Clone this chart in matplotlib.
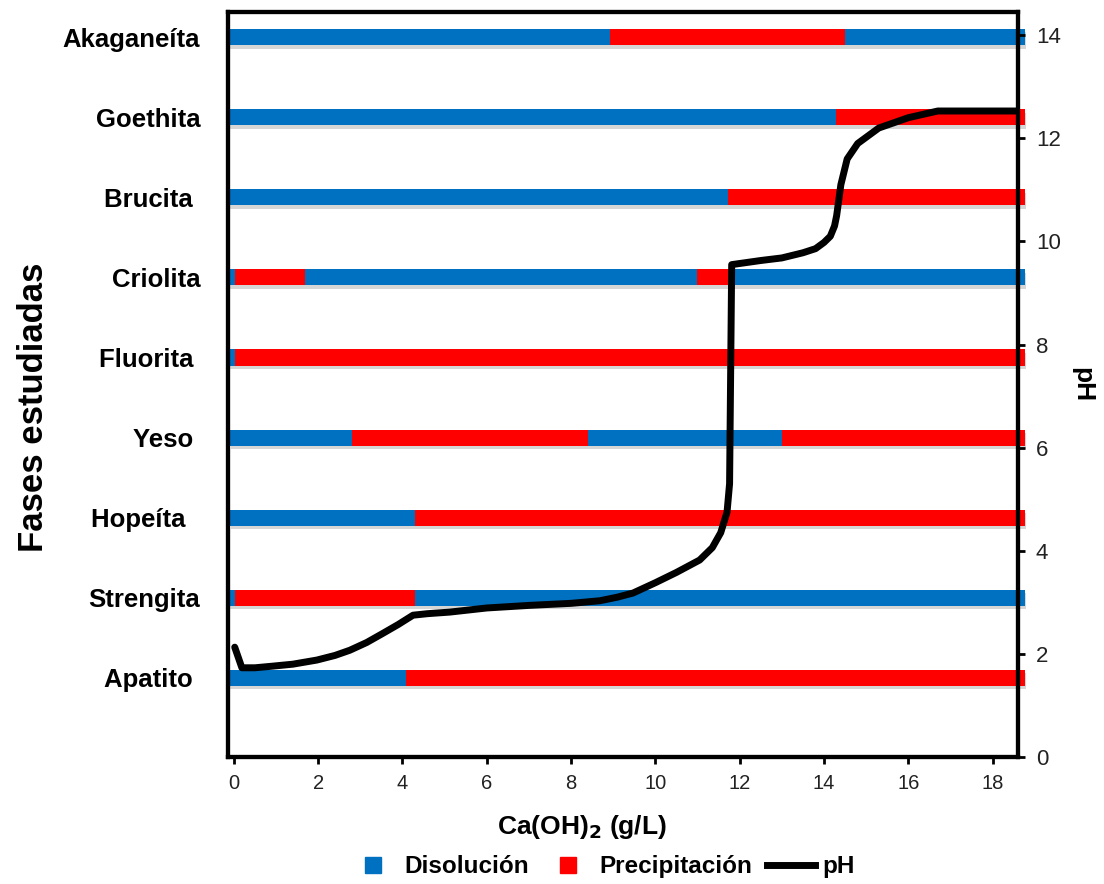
import numpy as np
import matplotlib
matplotlib.use('Agg')
import matplotlib.pyplot as plt
import matplotlib.patheffects as pe
from matplotlib.lines import Line2D

plt.rcParams['font.family'] = ['Liberation Sans', 'DejaVu Sans']

# fases (de arriba a abajo)
fases = ['Akaganeíta', 'Goethita', 'Brucita ', 'Criolita', 'Fluorita ',
         'Yeso ', 'Hopeíta  ', 'Strengita', 'Apatito ']

# limites de cada tramo en Ca(OH)2 (g/L) y estado de cada tramo
# D = disolucion, P = precipitacion
limites = [
    [-0.14, 8.92, 14.5, 18.77],
    [-0.14, 14.28, 18.77],
    [-0.14, 11.72, 18.77],
    [-0.14, 0.02, 1.68, 10.98, 11.89, 18.77],
    [-0.14, 0.02, 18.77],
    [-0.1, 2.8, 8.4, 13.0, 18.77],
    [-0.1, 4.3, 18.77],
    [-0.14, 0.02, 4.3, 18.77],
    [-0.14, 4.08, 18.77],
]
estados = [
    ['D', 'P', 'D'],
    ['D', 'P'],
    ['D', 'P'],
    ['D', 'P', 'D', 'P', 'D'],
    ['D', 'P'],
    ['D', 'P', 'D', 'P'],
    ['D', 'P'],
    ['D', 'P', 'D'],
    ['D', 'P'],
]

# curva de pH
ca_oh = [0.02, 0.19, 0.5, 0.9, 1.4, 1.97, 2.4, 2.75, 3.15, 3.54, 3.9, 4.25,
         4.6, 5.12, 6.0, 7.0, 8.0, 8.68, 9.1, 9.47, 10.0, 10.5, 11.05, 11.35,
         11.55, 11.7, 11.76, 11.81, 12.5, 13.0, 13.5, 13.8, 14.0, 14.15, 14.25,
         14.3, 14.4, 14.55, 14.8, 15.3, 16.0, 16.7, 18.6]
ph = [2.13, 1.73, 1.73, 1.76, 1.8, 1.88, 1.97, 2.07, 2.22, 2.4, 2.57, 2.75,
      2.78, 2.81, 2.89, 2.94, 2.98, 3.03, 3.1, 3.18, 3.38, 3.58, 3.82, 4.06,
      4.35, 4.75, 5.3, 9.55, 9.63, 9.68, 9.78, 9.86, 9.98, 10.1, 10.3,
      10.5, 11.1, 11.6, 11.9, 12.2, 12.4, 12.53, 12.53]

colores = {'D': '#0070C0', 'P': '#FF0000'}

fig = plt.figure(figsize=(11.04, 8.84), dpi=100)
ax = fig.add_axes([0.2065, 0.1437, 0.7155, 0.8427])

n = len(fases)
sombra = [pe.withSimplePatchShadow(offset=(1, -2.5), shadow_rgbFace='0.55', alpha=0.35)]
for i, fase in enumerate(fases):
    yy = n - 1 - i
    lims = limites[i]
    for j, est in enumerate(estados[i]):
        ax.barh(yy, lims[j + 1] - lims[j], left=lims[j], height=0.2,
                color=colores[est], clip_on=False, path_effects=sombra, zorder=2)

ax.set_xlim(-0.14, 18.6)
ax.set_ylim(-0.986, 8.312)
ax.set_yticks(range(n))
ax.set_yticklabels(fases[::-1], fontsize=18.5, fontweight='bold')
ax.tick_params(axis='y', length=0, pad=20)
ax.set_xticks(range(0, 19, 2))
ax.tick_params(axis='x', labelsize=14.5, labelcolor='#222222', length=5, width=2, pad=7)
for s in ax.spines.values():
    s.set_linewidth(3)
    s.set_color('black')
ax.set_xlabel('Ca(OH)$_\\mathbf{2}$ (g/L)', fontsize=19, fontweight='bold')
ax.xaxis.set_label_coords(0.448, -0.075)
ax.set_ylabel('Fases estudiadas', fontsize=25, fontweight='bold')
ax.yaxis.set_label_coords(-0.225, 0.47)

ax2 = ax.twinx()
ax2.plot(ca_oh, ph, color='black', lw=5, solid_joinstyle='round', solid_capstyle='round', zorder=3)
ax2.set_ylim(0, 14.45)
ax2.set_yticks(range(0, 15, 2))
ax2.tick_params(axis='y', labelsize=16, labelcolor='#222222', length=5, width=2, pad=8)
for s in ax2.spines.values():
    s.set_linewidth(3)
ax2.set_ylabel('pH', fontsize=19, fontweight='bold', rotation=270, labelpad=24)

handles = [Line2D([], [], marker='s', ls='none', ms=11, color=colores['D'], label='Disolución'),
           Line2D([], [], marker='s', ls='none', ms=11, color=colores['P'], label='Precipitación'),
           Line2D([], [], color='black', lw=5, label='pH')]
fig.legend(handles=handles, loc='lower center', bbox_to_anchor=(0.545, -0.018), ncol=3,
           frameon=False, prop={'weight': 'bold', 'size': 17.5}, handlelength=2.0,
           columnspacing=0.6, handletextpad=0.3)

fig.savefig('out.png', dpi=100)
